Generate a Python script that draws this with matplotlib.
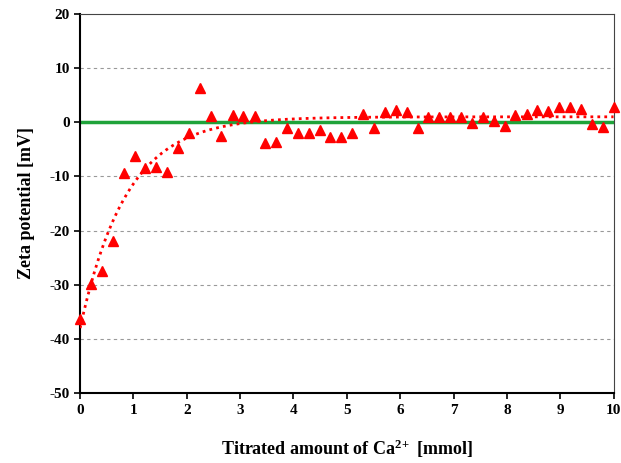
import numpy as np
import matplotlib
matplotlib.use("Agg")
from matplotlib import pyplot

ca_mmol = [0.00, 0.20, 0.41, 0.61, 0.82, 1.02, 1.22, 1.43, 1.63, 1.84,
           2.04, 2.24, 2.45, 2.65, 2.86, 3.06, 3.27, 3.47, 3.67, 3.88,
           4.08, 4.29, 4.49, 4.69, 4.90, 5.10, 5.31, 5.51, 5.71, 5.92,
           6.12, 6.33, 6.53, 6.73, 6.94, 7.14, 7.35, 7.55, 7.76, 7.96,
           8.16, 8.37, 8.57, 8.78, 8.98, 9.18, 9.39, 9.59, 9.80, 10.00]
zeta_mv = [-36.4, -29.8, -27.4, -21.9, -9.3, -6.2, -8.4, -8.2, -9.1, -4.8,
           -2.0, 6.4, 1.2, -2.5, 1.4, 1.1, 1.1, -3.9, -3.6, -1.1,
           -1.9, -1.9, -1.4, -2.7, -2.8, -2.0, 1.6, -1.1, 1.8, 2.2,
           1.8, -1.0, 0.9, 0.9, 0.9, 0.9, -0.2, 0.9, 0.3, -0.7,
           1.4, 1.6, 2.3, 2.0, 2.8, 2.8, 2.4, -0.4, -0.8, 2.9]

# exponential fit y = A + B*exp(-x/t)
fit_A = 1.0
fit_B = -39.0
fit_t = 0.87

pyplot.rcParams['font.family'] = ['Liberation Serif', 'DejaVu Serif']
pyplot.rcParams['font.weight'] = 'bold'
pyplot.rcParams['axes.unicode_minus'] = False
pyplot.rcParams['mathtext.fontset'] = 'custom'
pyplot.rcParams['mathtext.rm'] = 'Liberation Serif:bold'
pyplot.rcParams['mathtext.bf'] = 'Liberation Serif:bold'
pyplot.rcParams['mathtext.default'] = 'bf'

fig = pyplot.figure(figsize=(6.21, 4.63), dpi=100)
ax = fig.add_axes([0.129, 0.151, 0.859, 0.819])

for yv in [10, -10, -20, -30, -40]:
    ax.axhline(yv, color='#999999', lw=0.8, ls=(0, (3, 3)), zorder=1)

ax.axhline(0, color='#1fa33a', lw=2.5, zorder=2)

xf = np.linspace(0, 10, 300)
ax.plot(xf, fit_A + fit_B * np.exp(-xf / fit_t), color='red', lw=2,
        ls=(0, (1, 1.5)), zorder=3)
ax.plot(ca_mmol, zeta_mv, '^', color='red', markersize=7, zorder=4,
        clip_on=False)

ax.set_xlim(0, 10)
ax.set_ylim(-50, 20)
ax.set_xticks(range(0, 11))
ax.set_yticks(range(-50, 21, 10))
ax.tick_params(direction='out', length=4, width=1.2, labelsize=11)
for lab in ax.get_xticklabels() + ax.get_yticklabels():
    lab.set_fontweight('bold')

ax.spines['left'].set_linewidth(1.5)
ax.spines['bottom'].set_linewidth(1.5)
ax.spines['top'].set_color('#444444')
ax.spines['right'].set_color('#444444')

ax.set_xlabel('Titrated amount of Ca$^{2\\!+}$ [mmol]', fontsize=13,
              fontweight='bold', labelpad=15)
ax.set_ylabel('Zeta potential [mV]', fontsize=13, fontweight='bold',
              labelpad=10)

pyplot.savefig("out.png", dpi=100)
